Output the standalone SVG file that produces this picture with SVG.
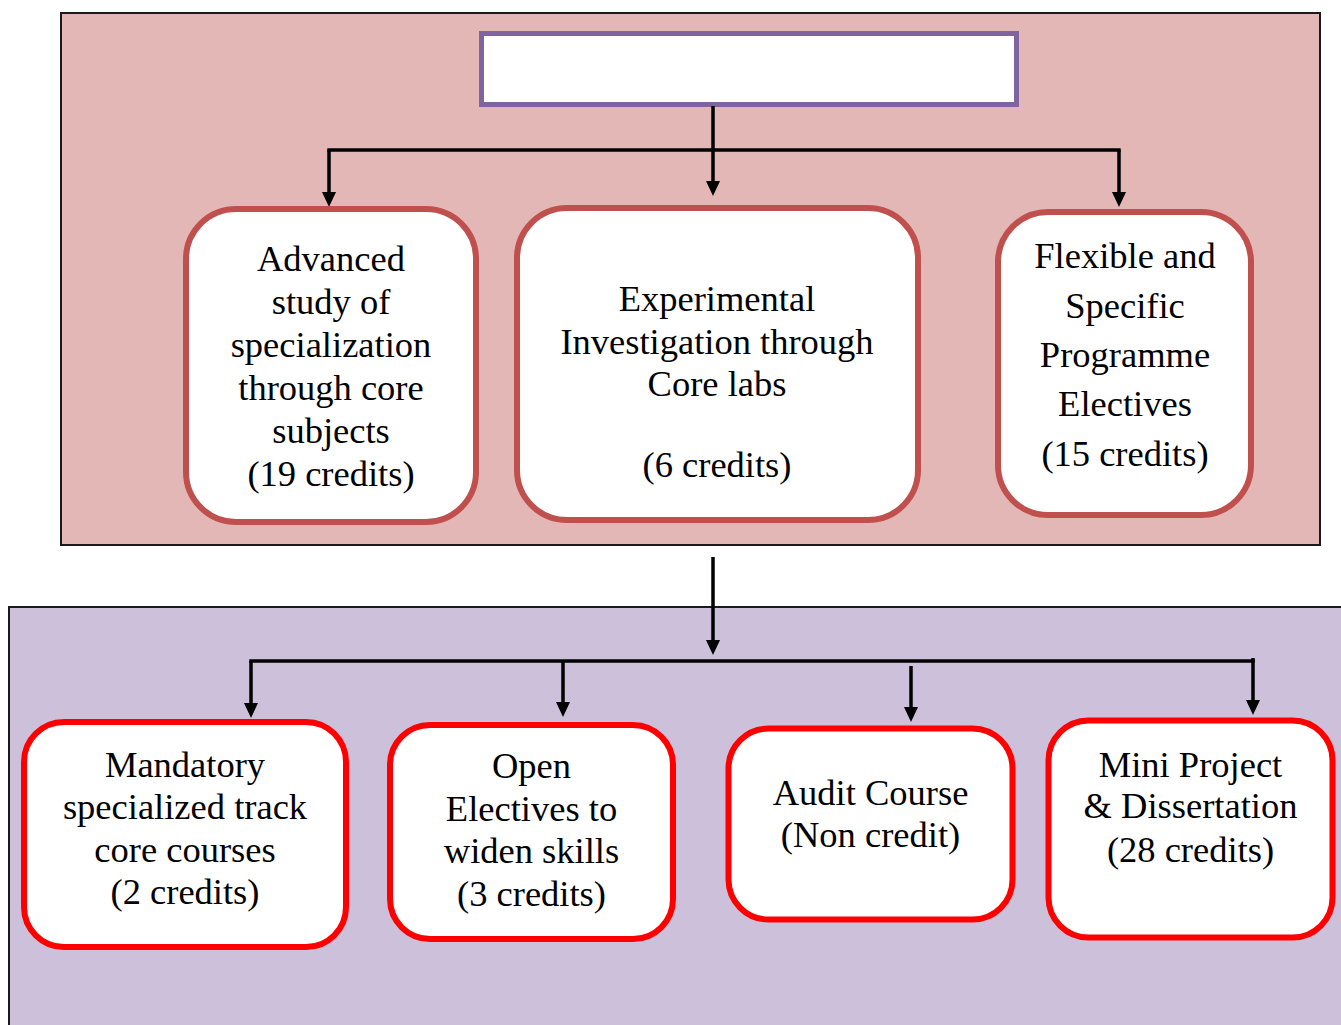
<svg xmlns="http://www.w3.org/2000/svg" width="1341" height="1025" viewBox="0 0 1341 1025">
<style>
text{font-family:"Liberation Serif","Times New Roman",serif;font-size:36.5px;fill:#000;text-anchor:middle}
.panel{stroke:#1a1a1a;stroke-width:2}
.tbox{fill:#fff;stroke:#c0504d;stroke-width:6}
.bbox{fill:#fff;stroke:#ff0000;stroke-width:6}
.conn{fill:none;stroke:#000;stroke-width:3.5}
</style>
<defs>
<marker id="ah" viewBox="0 0 15 14" refX="5" refY="7" markerWidth="15" markerHeight="14" markerUnits="userSpaceOnUse" orient="auto">
<path d="M0,0 L15,7 L0,14 z" fill="#000"/>
</marker>
</defs>
<g id="panel-top"><rect class="panel" x="61" y="13" width="1259" height="532" fill="#e4b7b7"/></g>
<g id="panel-bottom"><rect class="panel" x="9" y="607" width="1340" height="430" fill="#ccc0da"/></g>
<g id="title"><rect x="481.5" y="33.5" width="535" height="71" fill="#fff" stroke="#8064a2" stroke-width="5"/></g>
<g id="connectors">
<line class="conn" x1="713" y1="106" x2="713" y2="186" marker-end="url(#ah)"/>
<line class="conn" x1="327.3" y1="150" x2="1120.7" y2="150"/>
<line class="conn" x1="329" y1="150" x2="329" y2="197" marker-end="url(#ah)"/>
<line class="conn" x1="1119" y1="150" x2="1119" y2="197" marker-end="url(#ah)"/>
<line class="conn" x1="713" y1="557" x2="713" y2="645" marker-end="url(#ah)"/>
<line class="conn" x1="249.3" y1="661" x2="1254.7" y2="661"/>
<line class="conn" x1="1253" y1="658" x2="1253" y2="705" marker-end="url(#ah)"/>
<line class="conn" x1="251" y1="661" x2="251" y2="708" marker-end="url(#ah)"/>
<line class="conn" x1="563" y1="661" x2="563" y2="707" marker-end="url(#ah)"/>
<line class="conn" x1="911" y1="666" x2="911" y2="712" marker-end="url(#ah)"/>
</g>
<g id="node-advanced">
<rect class="tbox" x="186" y="209" width="290" height="313" rx="50"/>
<text x="331" y="271">Advanced</text>
<text x="331" y="314">study of</text>
<text x="331" y="357">specialization</text>
<text x="331" y="400">through core</text>
<text x="331" y="443">subjects</text>
<text x="331" y="486">(19 credits)</text>
</g>
<g id="node-experimental">
<rect class="tbox" x="517" y="208" width="401" height="312" rx="50"/>
<text x="717" y="311">Experimental</text>
<text x="717" y="354">Investigation through</text>
<text x="717" y="396">Core labs</text>
<text x="717" y="477">(6 credits)</text>
</g>
<g id="node-flexible">
<rect class="tbox" x="998" y="212" width="253" height="303" rx="50"/>
<text x="1125" y="268">Flexible and</text>
<text x="1125" y="318">Specific</text>
<text x="1125" y="367">Programme</text>
<text x="1125" y="416">Electives</text>
<text x="1125" y="466">(15 credits)</text>
</g>
<g id="node-mandatory">
<rect class="bbox" x="24" y="722" width="322" height="225" rx="40" stroke-width="5.5"/>
<text x="185" y="777">Mandatory</text>
<text x="185" y="819">specialized track</text>
<text x="185" y="862">core courses</text>
<text x="185" y="904">(2 credits)</text>
</g>
<g id="node-open">
<rect class="bbox" x="390" y="725" width="283" height="214" rx="40" stroke-width="8"/>
<text x="531.5" y="778">Open</text>
<text x="531.5" y="821">Electives to</text>
<text x="531.5" y="863">widen skills</text>
<text x="531.5" y="906">(3 credits)</text>
</g>
<g id="node-audit">
<rect class="bbox" x="728.5" y="728.5" width="284" height="191" rx="40" stroke-width="7"/>
<text x="870.5" y="805">Audit Course</text>
<text x="870.5" y="847">(Non credit)</text>
</g>
<g id="node-mini">
<rect class="bbox" x="1048.5" y="720.5" width="284" height="217" rx="40" stroke-width="7"/>
<text x="1190.5" y="777">Mini Project</text>
<text x="1190.5" y="818">&amp; Dissertation</text>
<text x="1190.5" y="862">(28 credits)</text>
</g>
</svg>
